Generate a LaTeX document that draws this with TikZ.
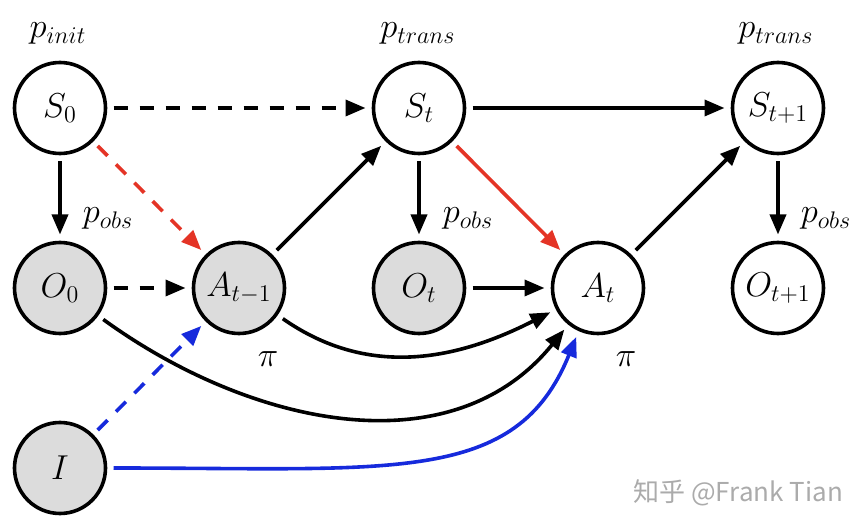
\documentclass[tikz,border=0pt]{standalone}
\usepackage{fontspec}
\newfontfamily\cjk{Noto Sans CJK SC}
\usetikzlibrary{arrows.meta}
\definecolor{redarrow}{RGB}{228,52,38}
\definecolor{bluearrow}{RGB}{22,42,220}
\definecolor{obsgray}{RGB}{220,220,220}

\begin{document}
\begin{tikzpicture}[x=0.5pt, y=0.5pt,
		state/.style={circle, draw, line width=1.8pt, minimum size=45.5pt, inner sep=0pt, outer sep=4pt, font=\fontsize{18}{21}\selectfont},
		seen/.style={state, fill=obsgray},
		edge/.style={line width=1.8pt, -{Triangle[length=10pt, width=8pt]}},
		dashedge/.style={dash pattern=on 7pt off 6pt},
		lbl/.style={font=\LARGE, anchor=base, inner sep=0pt}]
			%%%%% START %%%%%
			
			\useasboundingbox (0, 0) rectangle (864, 526);
			
			\node[state] (S0) at (60, 418) {$S_0$};
			\node[state] (St) at (419, 418) {$S_t$};
			\node[state] (St1) at (778, 418) {$S_{t+1}$};
			
			\node[seen] (O0) at (60, 238) {$O_0$};
			\node[seen] (At1) at (239, 238) {$A_{t-1}$};
			\node[seen] (Ot) at (419, 238) {$O_t$};
			\node[state] (At) at (598, 238) {$A_t$};
			\node[state] (Ot1) at (778, 238) {$O_{t+1}$};
			
			\node[seen] (I) at (60, 58) {$I$};
			
			\node[lbl] (pinit) at (58, 488) {$p_{init}$};
			\node[lbl] (ptrans) at (418, 488) {$p_{trans}$};
			\node[lbl] (ptrans1) at (776, 488) {$p_{trans}$};
			\node[lbl] (pobs) at (108, 303) {$p_{obs}$};
			\node[lbl] (pobst) at (468, 303) {$p_{obs}$};
			\node[lbl] (pobst1) at (826, 303) {$p_{obs}$};
			\node[lbl] (pi) at (268, 160) {$\pi$};
			\node[lbl] (pit) at (626, 160) {$\pi$};
			
			\draw[edge, dashedge] (S0) -- (St);
			\draw[edge] (St) -- (St1);
			\draw[edge] (S0) -- (O0);
			\draw[edge] (St) -- (Ot);
			\draw[edge] (St1) -- (Ot1);
			
			\draw[edge, dashedge, redarrow] (S0) -- (At1);
			\draw[edge, redarrow] (St) -- (At);
			
			\draw[edge] (At1) -- (St);
			\draw[edge] (At) -- (St1);
			\draw[edge, dashedge] (O0) -- (At1);
			\draw[edge] (Ot) -- (At);
			
			\draw[edge] (At1.-35) to[out=-35, in=207] (At.207);
			\draw[edge] (O0.-36) to[out=-36, in=231] (At.231);
			
			\draw[edge, dashedge, bluearrow] (I) -- (At1);
			\draw[edge, bluearrow] (I.east) to[out=0, in=248, out distance=140pt, in distance=80pt] (At.246);
			
			\node[anchor=base west, inner sep=0pt, text=black!33, font=\cjk\fontsize{13}{15}\selectfont] (mark) at (633, 25) {知乎 @Frank Tian};
			
			%%%%% END %%%%%
		\end{tikzpicture}
\end{document}
